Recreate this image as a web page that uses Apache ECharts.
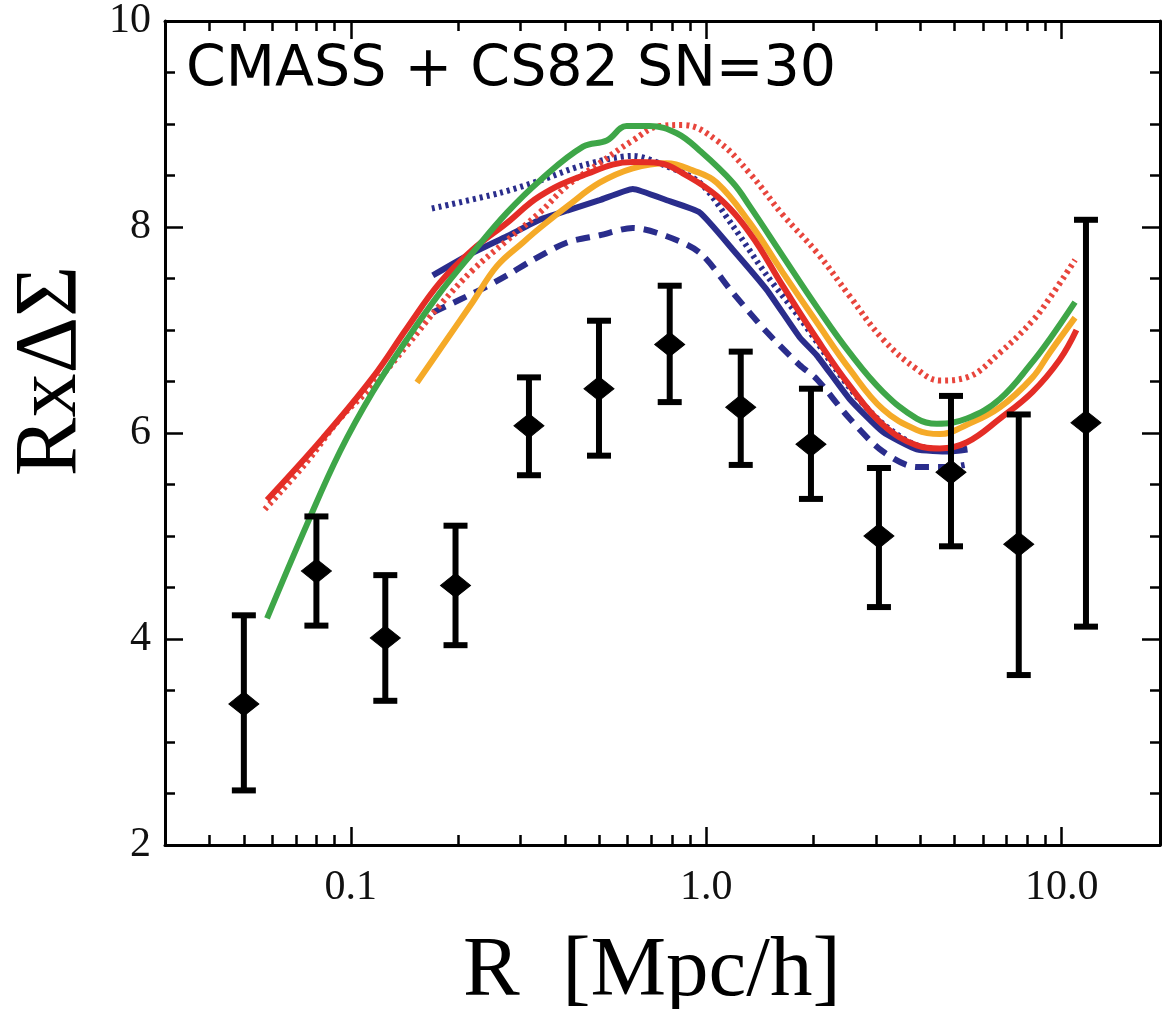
<!DOCTYPE html>
<html><head><meta charset="utf-8">
<script src="https://cdn.jsdelivr.net/npm/echarts@6/dist/echarts.min.js"></script>
<style>html,body{margin:0;padding:0;background:#fff}#c{width:1162px;height:1009px}</style>
</head><body><div id="c"></div>
<script>
// ---- data points (R [Mpc/h], R x DeltaSigma) with error bars
const dataR  = [0.050, 0.080, 0.125, 0.197, 0.317, 0.499, 0.789, 1.25, 1.97, 3.06, 4.88, 7.57, 11.7];
const dataY  = [3.37, 4.66, 4.01, 4.52, 6.07, 6.43, 6.86, 6.25, 5.89, 5.00, 5.62, 4.92, 6.10];
const dataHi = [4.23, 5.19, 4.62, 5.10, 6.54, 7.09, 7.43, 6.79, 6.43, 5.66, 6.36, 6.18, 8.07];
const dataLo = [2.53, 4.13, 3.40, 3.94, 5.59, 5.78, 6.30, 5.69, 5.36, 4.31, 4.90, 3.65, 4.12];

// ---- model curves
const greenR = [0.0581,0.0752,0.0932,0.1153,0.1439,0.178,0.220,0.275,0.340,0.450,0.525,0.597,0.693,0.826,0.959,1.188,1.326,1.64,2.05,2.53,3.14,3.91,4.45,5.41,6.70,8.28,9.25,10.9];
const greenY = [4.20,5.11,5.82,6.40,6.91,7.36,7.75,8.14,8.45,8.78,8.84,8.98,8.98,8.91,8.74,8.43,8.20,7.72,7.22,6.78,6.40,6.14,6.09,6.14,6.33,6.69,6.91,7.27];

const redR = [0.0581,0.0834,0.1153,0.1439,0.178,0.220,0.275,0.340,0.450,0.621,0.740,0.859,1.071,1.326,1.64,2.05,2.53,3.14,3.91,4.54,5.41,6.70,8.28,9.86,11.0];
const redY = [5.35,5.95,6.54,7.02,7.46,7.78,8.04,8.30,8.50,8.63,8.62,8.52,8.30,7.94,7.43,6.91,6.46,6.08,5.88,5.85,5.91,6.14,6.40,6.71,7.00];

const orangeR = [0.1535,0.178,0.220,0.2575,0.305,0.340,0.406,0.501,0.621,0.774,0.916,1.071,1.326,1.64,2.05,2.53,3.14,3.91,4.54,5.41,6.70,8.28,9.25,10.9];
const orangeY = [6.49,6.81,7.27,7.62,7.85,7.99,8.20,8.43,8.57,8.62,8.55,8.43,8.04,7.56,7.07,6.62,6.23,6.03,5.99,6.08,6.25,6.54,6.78,7.12];

const redDotR = [0.0573,0.0752,0.0932,0.1153,0.1439,0.178,0.220,0.275,0.340,0.406,0.501,0.621,0.740,0.859,1.071,1.326,1.64,2.05,2.53,3.14,3.91,4.54,5.41,6.70,8.28,9.25,10.9];
const redDotY = [5.26,5.72,6.14,6.46,6.85,7.24,7.58,7.87,8.14,8.40,8.62,8.84,8.98,8.99,8.84,8.52,8.12,7.75,7.33,6.91,6.62,6.51,6.54,6.78,7.09,7.31,7.68];

const navyR = [0.170,0.220,0.275,0.340,0.406,0.501,0.621,0.774,0.959,1.188,1.48,1.83,2.05,2.53,3.14,3.91,4.83,5.43];
const navyY = [7.53,7.75,7.91,8.07,8.16,8.26,8.37,8.26,8.14,7.78,7.39,6.93,6.75,6.33,6.01,5.84,5.82,5.84];

const navyDashR = [0.170,0.231,0.275,0.325,0.406,0.501,0.621,0.774,0.959,1.188,1.48,1.83,2.05,2.53,3.14,3.91,4.83,5.33];
const navyDashY = [7.17,7.39,7.53,7.68,7.85,7.92,7.99,7.91,7.75,7.36,6.98,6.66,6.52,6.14,5.82,5.67,5.67,5.69];

const navyDotR = [0.169,0.262,0.340,0.450,0.621,0.774,0.959,1.188,1.48,1.83,2.53,3.14,3.91,4.83,5.43];
const navyDotY = [8.18,8.33,8.45,8.60,8.69,8.59,8.43,8.01,7.53,7.12,6.44,6.09,5.88,5.84,5.85];

// ---- axis ticks
const xMajor = [0.1, 1, 10];
const xMinor = [0.04,0.05,0.06,0.07,0.08,0.09,0.2,0.3,0.4,0.5,0.6,0.7,0.8,0.9,2,3,4,5,6,7,8,9];
const xMin = 0.03, xMax = 18.9;
const yMin = 2, yMax = 10, yStep = 2;

const zip = (a, b) => a.map((v, i) => [v, b[i]]);
const serif = '"Liberation Serif", "DejaVu Serif", serif';

function xAxisDef(pos, values, len, showLine, showLabel) {
  return {
    type: 'log', position: pos, min: xMin, max: xMax, gridIndex: 0,
    axisLine: { show: showLine, lineStyle: { color: '#000', width: 3 } },
    axisTick: { show: true, inside: true, length: len, customValues: values,
                lineStyle: { color: '#000', width: 2.5 } },
    axisLabel: { show: showLabel, customValues: values, margin: 22,
                 color: '#111', fontFamily: serif, fontSize: 42,
                 formatter: v => Number(v).toFixed(1) },
    splitLine: { show: false }, minorTick: { show: false }
  };
}
function yAxisDef(pos, showLabel) {
  return {
    type: 'value', position: pos, min: yMin, max: yMax, interval: yStep,
    axisLine: { show: true, lineStyle: { color: '#000', width: 3 } },
    axisTick: { show: true, inside: true, length: 18, lineStyle: { color: '#000', width: 2.5 } },
    minorTick: { show: true, splitNumber: 4, length: 10, lineStyle: { color: '#000', width: 2.5 } },
    axisLabel: { show: showLabel, margin: 14, color: '#111', fontFamily: serif, fontSize: 42 },
    splitLine: { show: false }
  };
}

function lineSeries(name, R, Y, color, type, smooth) {
  return {
    name, type: 'line', xAxisIndex: 0, yAxisIndex: 0, data: zip(R, Y),
    showSymbol: false, smooth: smooth, z: 3,
    lineStyle: { color, width: 6, type, cap: 'butt' }
  };
}

const chart = echarts.init(document.getElementById('c'));
chart.setOption({
  animation: false,
  backgroundColor: '#fff',
  grid: { left: 165, top: 17, right: 2, bottom: 164, containLabel: false },
  xAxis: [
    xAxisDef('bottom', xMajor, 18, true, true),
    xAxisDef('bottom', xMinor, 10, false, false),
    xAxisDef('top', xMajor, 18, true, false),
    xAxisDef('top', xMinor, 10, false, false)
  ],
  yAxis: [yAxisDef('left', true), yAxisDef('right', false)],
  series: [
    lineSeries('navyDot', navyDotR, navyDotY, '#2a2d8c', [3, 4], 0.3),
    lineSeries('navyDash', navyDashR, navyDashY, '#2a2d8c', [14, 9], 0.3),
    lineSeries('navy', navyR, navyY, '#2a2d8c', 'solid', 0.15),
    lineSeries('redDot', redDotR, redDotY, '#e8453c', [3, 4], 0.4),
    lineSeries('orange', orangeR, orangeY, '#f5aa28', 'solid', 0.4),
    lineSeries('red', redR, redY, '#e42d26', 'solid', 0.4),
    lineSeries('green', greenR, greenY, '#3ea648', 'solid', 0.4),
    {
      type: 'custom', xAxisIndex: 0, yAxisIndex: 0, z: 5,
      data: dataR.map((r, i) => [r, dataLo[i], dataHi[i]]),
      renderItem: (params, api) => {
        const top = api.coord([api.value(0), api.value(2)]);
        const bot = api.coord([api.value(0), api.value(1)]);
        const hw = 12;
        const st = { stroke: '#000', lineWidth: 6 };
        return { type: 'group', children: [
          { type: 'line', shape: { x1: top[0], y1: top[1], x2: bot[0], y2: bot[1] }, style: st },
          { type: 'line', shape: { x1: top[0] - hw, y1: top[1], x2: top[0] + hw, y2: top[1] }, style: st },
          { type: 'line', shape: { x1: bot[0] - hw, y1: bot[1], x2: bot[0] + hw, y2: bot[1] }, style: st }
        ]};
      }
    },
    {
      type: 'scatter', xAxisIndex: 0, yAxisIndex: 0, z: 6,
      data: zip(dataR, dataY), symbol: 'diamond', symbolSize: [30, 24],
      itemStyle: { color: '#000', borderColor: '#000', borderWidth: 1, opacity: 1 }
    }
  ],
  graphic: [
    { type: 'text', left: 186, top: 43, z: 10,
      style: { text: 'CMASS + CS82 SN=30', font: '57px "DejaVu Sans", sans-serif', fill: '#000' } },
    { type: 'text', left: 463, top: 930, z: 10,
      style: { text: 'R  [Mpc/h]', font: '85px ' + serif, fill: '#000' } },
    { type: 'text', x: 52, y: 371, rotation: Math.PI / 2, z: 10,
      style: { text: 'RxΔΣ', font: '88px ' + serif, fill: '#000', align: 'center', verticalAlign: 'middle' } }
  ]
});
</script>
</body></html>
